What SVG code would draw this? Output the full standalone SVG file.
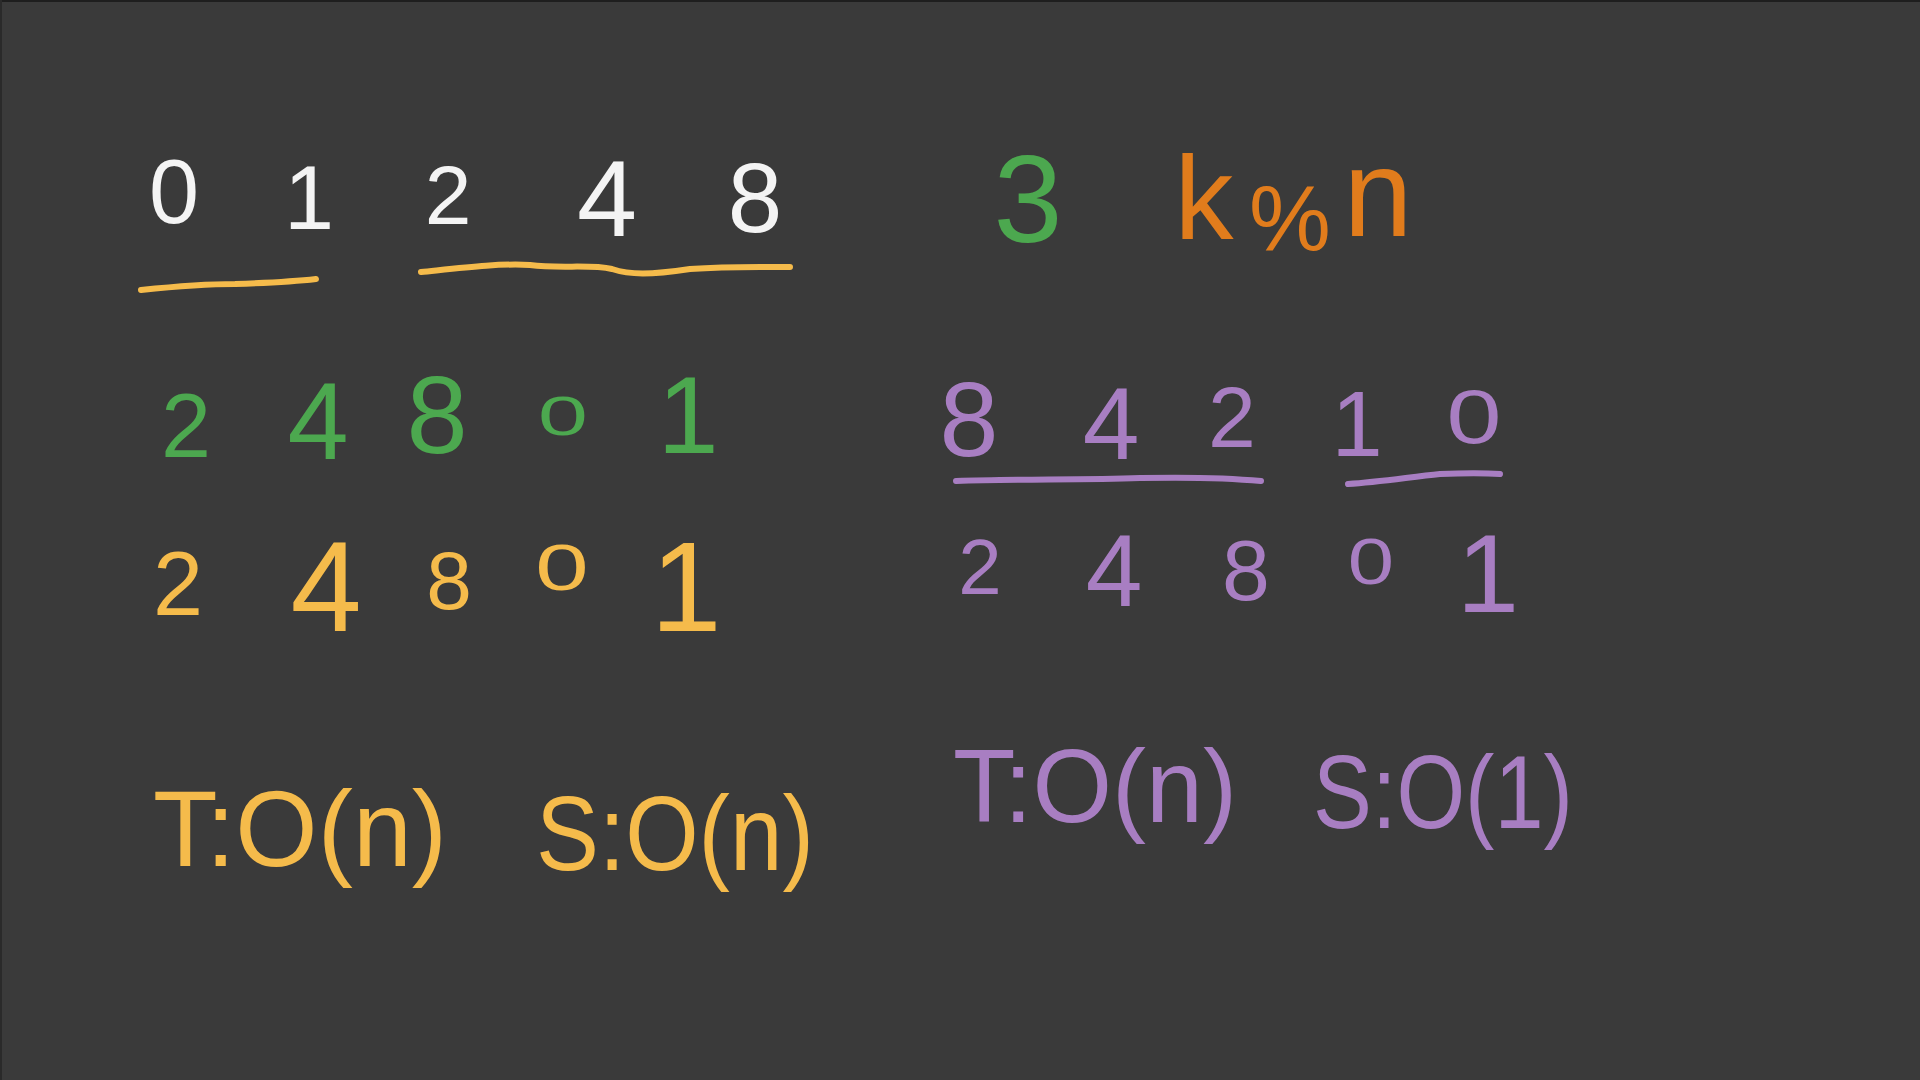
<svg xmlns="http://www.w3.org/2000/svg" width="1920" height="1080" viewBox="0 0 1920 1080">
<style>
text{font-family:"Liberation Sans",Arial,sans-serif;text-anchor:middle}
.w{fill:#f4f4f4}
.y{fill:#f5bb4b}
.g{fill:#4ca84f}
.o{fill:#e17c1c}
.p{fill:#a87ec2}
.ul{fill:none;stroke-width:6;stroke-linecap:round;stroke-linejoin:round}
</style>
<rect x="0" y="0" width="1920" height="1080" fill="#3a3a3a"/>
<rect x="0" y="0" width="1920" height="2" fill="#1e1e1e"/>
<rect x="0" y="0" width="2" height="1080" fill="#2a2a2a"/>

<g id="row-top">
<text class="w" x="174" y="223" font-size="90">0</text>
<text class="w" x="309" y="229" font-size="90">1</text>
<text class="w" x="448" y="224" font-size="84">2</text>
<text class="w" x="607" y="236" font-size="108">4</text>
<text class="w" x="755" y="232" font-size="98">8</text>
<text class="g" x="1028" y="242" font-size="124">3</text>
<text class="o" y="239" font-size="118"><tspan x="1204">k</tspan><tspan x="1290" font-size="92" y="250">%</tspan><tspan x="1378" font-size="124" y="236">n</tspan></text>
</g>

<g id="underlines" class="ul">
<path stroke="#f5bb4b" d="M141,290 C170,287 200,284 235,284 C265,283 290,282 316,279"/>
<path stroke="#f5bb4b" d="M421,272 C460,268 500,263 530,265 C560,269 590,264 612,269 C630,275 650,275 690,269 C730,266 760,267 790,267"/>
<path stroke="#a87ec2" d="M956,481 C1020,479 1080,480 1140,478 C1190,477 1230,478 1261,481"/>
<path stroke="#a87ec2" d="M1348,484 C1380,482 1410,477 1440,474 C1465,473 1485,473 1500,474"/>
</g>

<g id="row-green">
<text class="g" x="186" y="457" font-size="90">2</text>
<text class="g" x="318" y="459" font-size="110">4</text>
<text class="g" x="437" y="453" font-size="110">8</text>
<text class="g" transform="translate(563,435) scale(1.6,1)" x="0" y="0" font-size="56">0</text>
<text class="g" x="688" y="453" font-size="110">1</text>
</g>

<g id="row-yellow">
<text class="y" x="178" y="615" font-size="90">2</text>
<text class="y" x="326" y="631" font-size="128">4</text>
<text class="y" x="449" y="609" font-size="82">8</text>
<text class="y" transform="translate(562,590) scale(1.5,1)" x="0" y="0" font-size="64">0</text>
<text class="y" x="686" y="631" font-size="128">1</text>
</g>

<g id="row-purple-top">
<text class="p" x="969" y="456" font-size="106">8</text>
<text class="p" x="1111" y="459" font-size="102">4</text>
<text class="p" x="1232" y="447" font-size="86">2</text>
<text class="p" x="1357" y="456" font-size="92">1</text>
<text class="p" transform="translate(1474,443) scale(1.3,1)" x="0" y="0" font-size="76">0</text>
</g>

<g id="row-purple-bottom">
<text class="p" x="980" y="594" font-size="78">2</text>
<text class="p" x="1114" y="606" font-size="102">4</text>
<text class="p" x="1246" y="600" font-size="86">8</text>
<text class="p" transform="translate(1371,584) scale(1.3,1)" x="0" y="0" font-size="64">0</text>
<text class="p" x="1488" y="612" font-size="112">1</text>
</g>

<g id="complexity">
<text class="y" x="300" y="866" font-size="108" textLength="294" lengthAdjust="spacingAndGlyphs">T:O(n)</text>
<text class="y" x="675" y="870" font-size="106" textLength="278" lengthAdjust="spacingAndGlyphs">S:O(n)</text>
<text class="p" x="1095" y="822" font-size="104" textLength="284" lengthAdjust="spacingAndGlyphs">T:O(n)</text>
<text class="p" x="1443" y="828" font-size="104" textLength="260" lengthAdjust="spacingAndGlyphs">S:O(1)</text>
</g>
</svg>
